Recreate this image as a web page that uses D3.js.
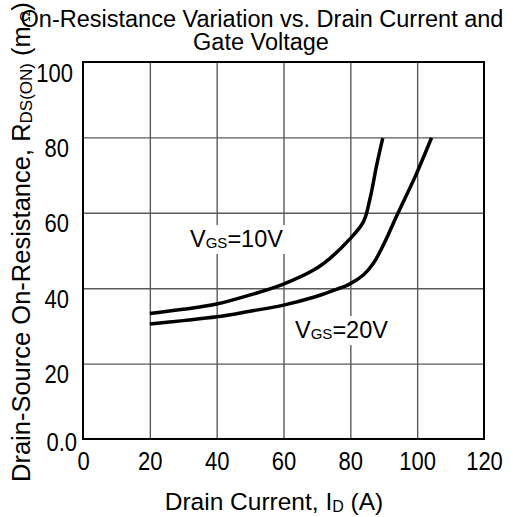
<!DOCTYPE html>
<html>
<head>
<meta charset="utf-8">
<script src="https://cdn.jsdelivr.net/npm/d3@7"></script>
<style>
  html, body { margin: 0; padding: 0; background: #fff; }
  svg { display: block; font-family: "Liberation Sans", Arial, Helvetica, sans-serif; }
</style>
</head>
<body>
<svg id="chart" width="513" height="517"></svg>
<script>
// ---- data ----
const xTicks = [0, 20, 40, 60, 80, 100, 120];
const yTicks = [0, 20, 40, 60, 80, 100];
const vgs10Current = [20, 30, 40, 50, 60, 69, 74, 79.6, 83.9, 85.9, 87.9, 89.7];
const vgs10Resist  = [33.3, 34.4, 35.8, 38.2, 41.1, 44.8, 48, 52.8, 57.6, 63.8, 72.7, 79.8];
const vgs20Current = [20, 30, 40, 50, 60, 69, 74, 79.6, 83.9, 86.9, 89.9, 94.3, 99.6, 104.3];
const vgs20Resist  = [30.5, 31.4, 32.4, 33.9, 35.5, 37.6, 39.1, 41.0, 43.5, 46.6, 51.5, 60, 70, 79.9];
const seriesNames = ["10V", "20V"];

const svg = d3.select("#chart");
const L = 83, R = 484, T = 62, B = 439;
const x = d3.scaleLinear().domain([0, 120]).range([L, R]);
const y = d3.scaleLinear().domain([0, 100]).range([B, T]);

// grid
const grid = svg.append("g");
grid.append("g").attr("transform", `translate(0,${B})`)
  .call(d3.axisBottom(x).tickValues(xTicks.slice(1, -1)).tickSize(-(B - T)).tickFormat(""))
  .call(g => g.select(".domain").remove())
  .call(g => g.selectAll("line").attr("stroke", "#5a5a5a").attr("stroke-width", 1.4));
grid.append("g").attr("transform", `translate(${L},0)`)
  .call(d3.axisLeft(y).tickValues(yTicks.slice(1, -1)).tickSize(-(R - L)).tickFormat(""))
  .call(g => g.select(".domain").remove())
  .call(g => g.selectAll("line").attr("stroke", "#5a5a5a").attr("stroke-width", 1.4));

// curves
const line = d3.line().x(d => x(d[0])).y(d => y(d[1])).curve(d3.curveCatmullRom.alpha(0.5));
const s10 = vgs10Current.map((c, i) => [c, vgs10Resist[i]]);
const s20 = vgs20Current.map((c, i) => [c, vgs20Resist[i]]);
[s10, s20].forEach(s => {
  svg.append("path").datum(s).attr("d", line)
    .attr("fill", "none").attr("stroke", "#000").attr("stroke-width", 3.5)
    .attr("stroke-linejoin", "round").attr("stroke-linecap", "butt");
});

// frame
svg.append("rect").attr("x", L).attr("y", T).attr("width", R - L).attr("height", B - T)
  .attr("fill", "none").attr("stroke", "#000").attr("stroke-width", 2);

// x tick labels
svg.append("g").attr("transform", `translate(0,${B})`)
  .call(d3.axisBottom(x).tickValues(xTicks).tickSize(0))
  .call(g => g.select(".domain").remove())
  .call(g => g.selectAll("text").attr("x", 0).attr("y", 0).attr("dy", 0)
    .attr("transform", "translate(0,31) scale(1,1.15)")
    .attr("font-size", 22).attr("fill", "#000")
    .attr("font-family", "'Liberation Sans', Arial, sans-serif"));

// y tick labels
svg.append("g").attr("transform", `translate(${L},0)`)
  .call(d3.axisLeft(y).tickValues(yTicks).tickSize(0).tickFormat(d => d === 0 ? "0.0" : String(d)))
  .call(g => g.select(".domain").remove())
  .call(g => g.selectAll("text").attr("x", 0).attr("y", 0).attr("dy", 0)
    .attr("transform", d => `translate(${d === 0 ? -6 : (d === 100 ? -10 : -14)},${d === 0 ? 11 : 19}) scale(1,1.15)`)
    .attr("font-size", 22).attr("fill", "#000")
    .attr("font-family", "'Liberation Sans', Arial, sans-serif"));

// series labels with white boxes
function seriesLabel(name, px, py) {
  const g = svg.append("g");
  const rect = g.append("rect").attr("fill", "#fff");
  const t = g.append("text").attr("x", px).attr("y", py).attr("font-size", 23.5).attr("fill", "#000");
  t.append("tspan").text("V");
  t.append("tspan").attr("font-size", 15).attr("dy", 1).text("GS");
  t.append("tspan").attr("dy", -1).text("=" + name);
  const bb = t.node().getBBox();
  rect.attr("x", bb.x - 3).attr("y", bb.y - 1).attr("width", bb.width + 6).attr("height", bb.height + 3);
}
seriesLabel(seriesNames[0], 190, 247);
seriesLabel(seriesNames[1], 295, 338);

// title
const title = svg.append("text").attr("text-anchor", "middle").attr("font-size", 23.5).attr("fill", "#000");
title.append("tspan").attr("x", 262).attr("y", 27).text("On-Resistance Variation vs. Drain Current and");
title.append("tspan").attr("x", 261).attr("y", 50).text("Gate Voltage");

// x axis title
const xt = svg.append("text").attr("x", 274).attr("y", 510).attr("text-anchor", "middle")
  .attr("font-size", 24.5).attr("fill", "#000");
xt.append("tspan").text("Drain Current, I");
xt.append("tspan").attr("font-size", 16).attr("dy", 2).text("D");
xt.append("tspan").attr("dy", -2).text(" (A)");

// y axis title
const yt = svg.append("text").attr("transform", "translate(30,482) rotate(-90)")
  .attr("text-anchor", "start").attr("font-size", 25.5).attr("fill", "#000");
yt.append("tspan").text("Drain-Source On-Resistance, R");
yt.append("tspan").attr("font-size", 17).attr("dy", 2).text("DS(ON)");
yt.append("tspan").attr("dy", -2).text(" (m");
yt.append("tspan").attr("font-size", 15).text(" Ω");
yt.append("tspan").text(")");
</script>
</body>
</html>
